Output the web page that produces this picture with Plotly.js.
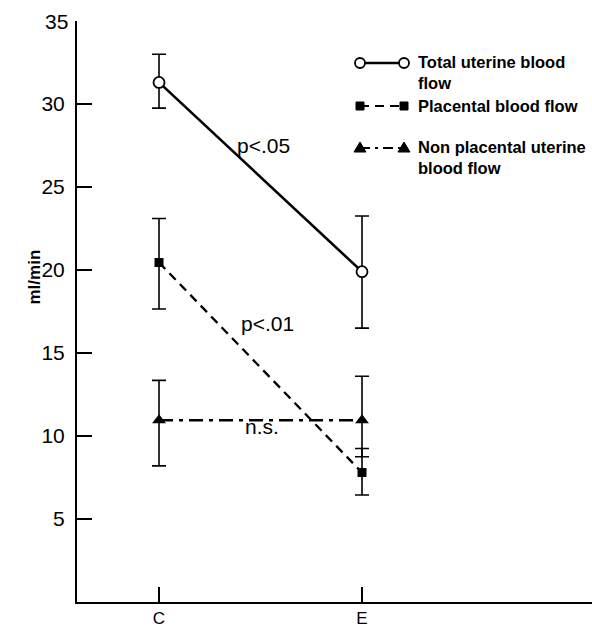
<!DOCTYPE html>
<html>
<head>
<meta charset="utf-8">
<script src="https://cdn.plot.ly/plotly-3.0.1.min.js"></script>
<style>html,body{margin:0;padding:0;background:#fff;}#chart{width:592px;height:627px;}</style>
</head>
<body>
<div id="chart"></div>
<script>
// ---- data ----
const categories = ['C', 'E'];
const totalFlow = [31.3, 19.9];
const totalUp = [33.0, 23.25];
const totalLow = [29.75, 16.5];
const placentalFlow = [20.45, 7.8];
const placentalUp = [23.1, 9.25];
const placentalLow = [17.65, 6.45];
const nonPlacentalFlow = [10.95, 10.95];
const nonPlacentalUp = [13.35, 13.6];
const nonPlacentalLow = [8.2, 8.75];
const yTicks = [5, 10, 15, 20, 25, 30];
const seriesNames = ['Total uterine blood<br>flow', 'Placental blood flow', 'Non placental uterine<br>blood flow'];
const pLabels = ['p<.05', 'p<.01', 'n.s.'];

function errs(v, up, low) {
  return {
    type: 'data', symmetric: false,
    array: v.map((d, i) => up[i] - d),
    arrayminus: v.map((d, i) => d - low[i]),
    color: '#000', thickness: 1.6, width: 7
  };
}

const traces = [
  {x: categories, y: totalFlow, mode: 'lines+markers', name: seriesNames[0],
   line: {color: '#000', width: 2.6},
   marker: {symbol: 'circle', size: 11, color: '#fff', line: {color: '#000', width: 1.8}},
   error_y: errs(totalFlow, totalUp, totalLow)},
  {x: categories, y: placentalFlow, mode: 'lines+markers', name: seriesNames[1],
   line: {color: '#000', width: 2.3, dash: '9px,6px'},
   marker: {symbol: 'square', size: 9, color: '#000'},
   error_y: errs(placentalFlow, placentalUp, placentalLow)},
  {x: categories, y: nonPlacentalFlow, mode: 'lines+markers', name: seriesNames[2],
   line: {color: '#000', width: 2.3, dash: '14px,6px,4px,6px'},
   marker: {symbol: 'triangle-up', size: 12, color: '#000'},
   error_y: errs(nonPlacentalFlow, nonPlacentalUp, nonPlacentalLow)}
];

// legend geometry (paper coords)
const L = 77, W = 515, B = 602, H = 581;
const px = v => (v - L) / W;
const py = v => (B - v) / H;
const legRows = [63, 106, 148];
const legX0 = 360, legX1 = 404;
const shapes = [];
const legDash = ['solid', '9px,6px', '10px,5px,3px,5px'];
legRows.forEach((r, i) => {
  shapes.push({type: 'line', xref: 'paper', yref: 'paper', x0: px(legX0), x1: px(legX1), y0: py(r), y1: py(r),
    line: {color: '#000', width: i === 0 ? 2.4 : 2.2, dash: legDash[i]}});
});
[legX0, legX1].forEach(xx => {
  shapes.push({type: 'circle', xref: 'paper', yref: 'paper', xsizemode: 'pixel', ysizemode: 'pixel',
    xanchor: px(xx), yanchor: py(legRows[0]), x0: -5, x1: 5, y0: -5, y1: 5,
    fillcolor: '#fff', line: {color: '#000', width: 1.8}});
  shapes.push({type: 'rect', xref: 'paper', yref: 'paper', xsizemode: 'pixel', ysizemode: 'pixel',
    xanchor: px(xx), yanchor: py(legRows[1]), x0: -4, x1: 4, y0: -4, y1: 4,
    fillcolor: '#000', line: {color: '#000', width: 1}});
  shapes.push({type: 'path', xref: 'paper', yref: 'paper', xsizemode: 'pixel', ysizemode: 'pixel',
    xanchor: px(xx), yanchor: py(legRows[2]), path: 'M -6 -4 L 6 -4 L 0 6 Z',
    fillcolor: '#000', line: {color: '#000', width: 1}});
});

const font = 'Liberation Sans, Arial, sans-serif';
const legFont = {family: font, size: 16.5, color: '#000'};
const pFont = {family: font, size: 21, color: '#000'};
const annotations = [
  {xref: 'paper', yref: 'paper', x: px(416), y: py(72), xanchor: 'left', yanchor: 'middle', align: 'left',
   text: '<b>' + seriesNames[0] + '</b>', showarrow: false, font: legFont},
  {xref: 'paper', yref: 'paper', x: px(416), y: py(106), xanchor: 'left', yanchor: 'middle', align: 'left',
   text: '<b>' + seriesNames[1] + '</b>', showarrow: false, font: legFont},
  {xref: 'paper', yref: 'paper', x: px(416), y: py(157), xanchor: 'left', yanchor: 'middle', align: 'left',
   text: '<b>' + seriesNames[2] + '</b>', showarrow: false, font: legFont},
  {xref: 'paper', yref: 'paper', x: px(263), y: py(132), text: pLabels[0], showarrow: false, font: pFont},
  {xref: 'paper', yref: 'paper', x: px(267), y: py(323), text: pLabels[1], showarrow: false, font: pFont},
  {xref: 'paper', yref: 'paper', x: px(262), y: py(440), text: pLabels[2], showarrow: false, font: pFont},
  {xref: 'paper', yref: 'y', x: px(70), y: 35, xanchor: 'right', yanchor: 'middle', text: '35', showarrow: false,
   font: {family: font, size: 21, color: '#000'}},
  {xref: 'paper', yref: 'paper', x: px(22), y: py(277), textangle: -90, text: '<b>ml/min</b>', showarrow: false,
   font: {family: font, size: 17, color: '#000'}}
];

const layout = {
  width: 592, height: 627,
  margin: {l: 77, r: 0, t: 21, b: 25, pad: 0},
  paper_bgcolor: '#fff', plot_bgcolor: '#fff',
  showlegend: false,
  font: {family: font, color: '#000'},
  xaxis: {type: 'category', range: [-0.404, 2.133], showgrid: false, zeroline: false,
    showline: true, linecolor: '#000', linewidth: 2, ticks: 'inside', ticklen: 15, tickwidth: 2, tickcolor: '#000',
    tickfont: {family: font, size: 17, color: '#000'}, ticklabelstandoff: 0, fixedrange: true},
  yaxis: {range: [0, 35], tickvals: yTicks, showgrid: false, zeroline: false,
    showline: true, linecolor: '#000', linewidth: 2, ticks: 'inside', ticklen: 15, tickwidth: 2, tickcolor: '#000',
    tickfont: {family: font, size: 21, color: '#000'}, ticklabelstandoff: 6, fixedrange: true},
  shapes: shapes,
  annotations: annotations
};

Plotly.newPlot('chart', traces, layout, {displayModeBar: false, staticPlot: true});
</script>
</body>
</html>
